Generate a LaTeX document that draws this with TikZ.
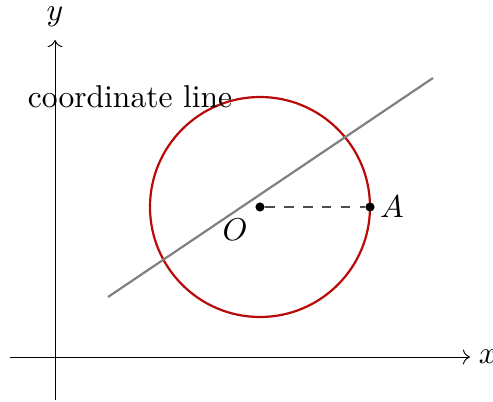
\documentclass[tikz,border=0pt]{standalone}
\usetikzlibrary{arrows.meta}
\definecolor{circred}{RGB}{185,10,10}
\begin{document}
\begin{tikzpicture}[x=0.317pt,y=0.317pt,
  axis/.style={line width=0.3pt,->},
  dotpt/.style={circle,fill=black,inner sep=0pt,minimum size=2.9pt},
  lbl/.style={inner sep=0pt}]
\useasboundingbox (0,0) rectangle (493,402);
\coordinate (xs) at (10,45);
\coordinate (xe) at (470,45);
\coordinate (ys) at (55,2);
\coordinate (ye) at (55,362);
\draw[axis] (xs) -- (xe);
\draw[axis] (ys) -- (ye);
\node[lbl] (xl) at (488,45) {$x$};
\node[lbl] (yl) at (55,385) {$y$};
\coordinate (c) at (260,195);
\draw[circred,line width=0.7pt] (c) circle[radius=110];
\coordinate (l1) at (108,105);
\coordinate (l2) at (433,324);
\draw[gray,line width=0.7pt] (l1) -- (l2);
\node[dotpt] (O) at (c) {};
\node[dotpt] (A) at (370,195) {};
\draw[dashed,black!70,line width=0.4pt] (O) -- (A);
\node[lbl] (Ol) at (235,172) {$O$};
\node[lbl] (Al) at (392,195) {$A$};
\node[lbl] (cl) at (130,305) {coordinate line};
\end{tikzpicture}
\end{document}
